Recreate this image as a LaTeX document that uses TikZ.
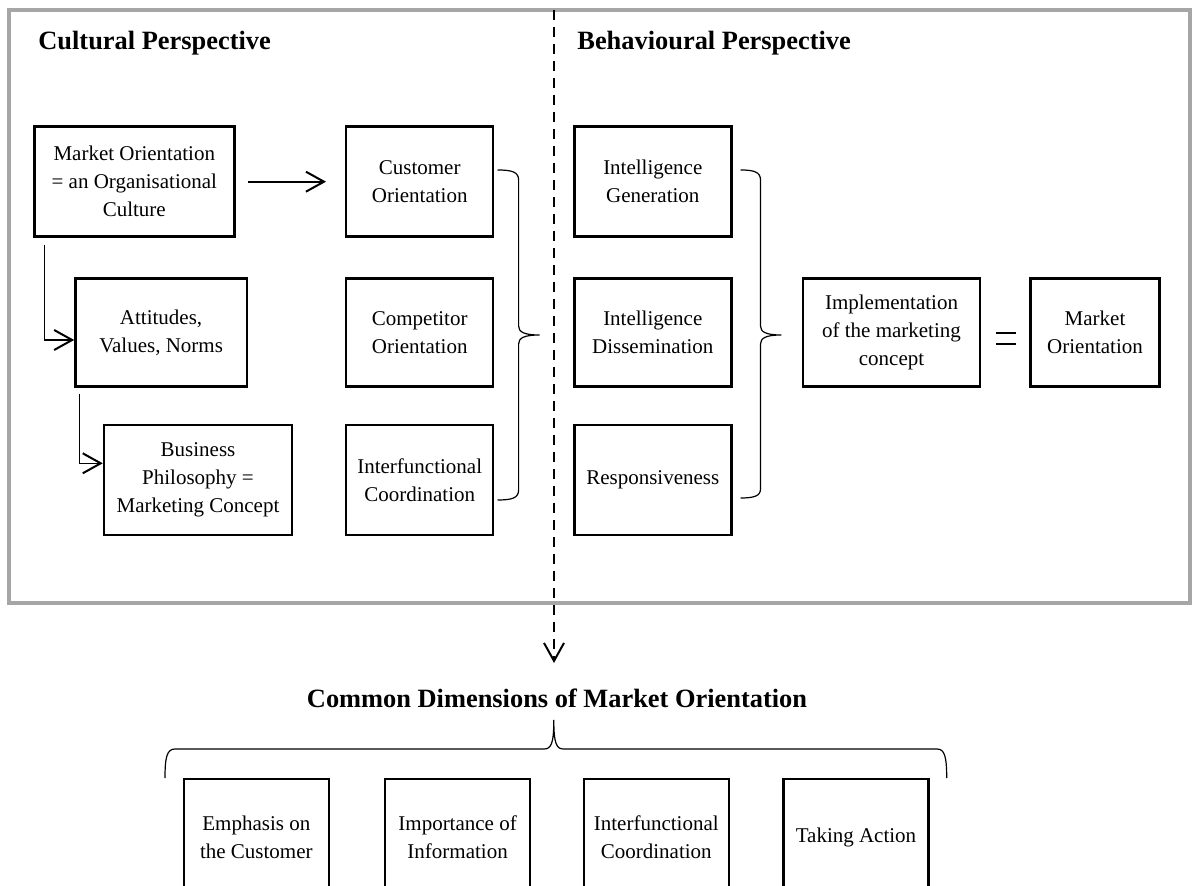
\documentclass[tikz,border=0pt]{standalone}
\usepackage{fontspec}
\setmainfont{Liberation Serif}
\usepackage{tikz}
\usetikzlibrary{arrows.meta, calc, positioning}
\definecolor{framegrey}{RGB}{166,166,166}

\tikzset{
	openv/.tip={Straight Barb[length=9pt,width=10pt,line width=1pt]},
	mobox/.style={draw, line width=1.2pt, align=center, inner sep=0pt,
		font=\fontsize{10.5}{14}\selectfont},
	headtext/.style={inner sep=0pt, font=\fontsize{13.2}{16}\selectfont\bfseries},
	conn/.style={line width=0.6pt},
}

\begin{document}
\begin{tikzpicture}[x=0.5pt, y=0.5pt]
			\useasboundingbox (0,0) rectangle (1193,-886);
			\clip (0,0) rectangle (1193,-886);
			% Frame and headings
			\draw[framegrey, line width=2pt] (8.5,-10) rectangle (1190,-603);
			\node[headtext, anchor=base west] (cult) at (38,-50) {Cultural Perspective};
			\node[headtext, anchor=base west] (behav) at (577,-50) {Behavioural Perspective};
			
			% Cultural perspective
			\node[mobox, minimum width=100pt, minimum height=55pt] (moc) at (134.3,-181.7)
				{Market Orientation\\= an Organisational\\Culture};
			\node[mobox, minimum width=85.7pt, minimum height=54pt] (avn) at (161.1,-332.5)
				{Attitudes,\\Values, Norms};
			\node[mobox, minimum width=94pt, minimum height=55pt] (bphil) at (198,-480)
				{Business\\Philosophy =\\Marketing Concept};
			\node[mobox, minimum width=73.5pt, minimum height=55pt] (cust) at (419.7,-181.7)
				{Customer\\Orientation};
			\node[mobox, minimum width=73.5pt, minimum height=54pt] (comp) at (419.7,-332.5)
				{Competitor\\Orientation};
			\node[mobox, minimum width=73.5pt, minimum height=55pt] (ifc) at (419.7,-480)
				{Interfunctional\\Coordination};
			
			\draw[line width=1pt, -{openv}, shorten <=6.4pt, shorten >=9.5pt] (moc) -- (cust);
			\draw[conn, -{openv}] ($(moc.south west)+(11,-7)$) |- ($(avn.west)+(0,-7.5)$);
			\draw[conn, -{openv}] ($(avn.south west)+(5.6,-6)$) |- ($(bphil.west)+(0,16.7)$);
			
			\draw[conn] (497.5,-170) .. controls (512,-170) and (518.6,-172) .. (518.6,-180)
				-- (518.6,-326) .. controls (518.6,-332) and (524,-335) .. (539.6,-335)
				.. controls (524,-335) and (518.6,-338) .. (518.6,-344)
				-- (518.6,-490) .. controls (518.6,-498) and (512,-500) .. (497.5,-500);
			
			% Behavioural perspective
			\node[mobox, minimum width=78.5pt, minimum height=55pt] (igen) at (652.8,-181.7)
				{Intelligence\\Generation};
			\node[mobox, minimum width=78.5pt, minimum height=54pt] (idis) at (652.8,-332.5)
				{Intelligence\\Dissemination};
			\node[mobox, minimum width=78.5pt, minimum height=55pt] (resp) at (652.8,-480)
				{Responsiveness};
			\node[mobox, minimum width=88.5pt, minimum height=54pt] (impl) at (891.5,-332.5)
				{Implementation\\of the marketing\\concept};
			\node[mobox, minimum width=64.5pt, minimum height=54pt] (mo) at (1095,-332.5)
				{Market\\Orientation};
			
			\draw[conn] (740.5,-170) .. controls (754,-170) and (760.5,-172) .. (760.5,-180)
				-- (760.5,-326) .. controls (760.5,-332) and (766,-335) .. (781.4,-335)
				.. controls (766,-335) and (760.5,-338) .. (760.5,-344)
				-- (760.5,-489) .. controls (760.5,-496) and (754,-498) .. (740.5,-498);
			
			\draw[line width=1pt, shorten <=7.3pt, shorten >=6.9pt]
				([yshift=-0.4pt]impl.east) -- ([yshift=-0.4pt]mo.west);
			\draw[line width=1pt, shorten <=7.3pt, shorten >=6.9pt]
				([yshift=-5.9pt]impl.east) -- ([yshift=-5.9pt]mo.west);
			
			% Common dimensions
			\coordinate (divtop) at (554,-10);
			\node[headtext, anchor=base] (cdim) at (557,-707) {Common Dimensions of Market Orientation};
			\draw[line width=1pt, dash pattern=on 5pt off 3.5pt, -{openv}, shorten >=12.5pt]
				(divtop) -- (divtop |- cdim.north);
			
			\draw[conn] (165,-778) .. controls (165,-757) and (167,-749) .. (175,-749)
				-- (544,-749) .. controls (551,-749) and (553.8,-744) .. (553.8,-720)
				.. controls (553.8,-744) and (556.6,-749) .. (563.6,-749)
				-- (937,-749) .. controls (944.7,-749) and (946.7,-757) .. (946.7,-778);
			
			\node[mobox, minimum width=72.5pt, minimum height=58pt] (emph) at (256.3,-837)
				{Emphasis on\\the Customer};
			\node[mobox, minimum width=72.5pt, minimum height=58pt] (info) at (457.6,-837)
				{Importance of\\Information};
			\node[mobox, minimum width=72.5pt, minimum height=58pt] (ifc2) at (656.3,-837)
				{Interfunctional\\Coordination};
			\node[mobox, minimum width=72.5pt, minimum height=58pt] (act) at (856,-837)
				{Taking Action};
			
		\end{tikzpicture}
\end{document}
